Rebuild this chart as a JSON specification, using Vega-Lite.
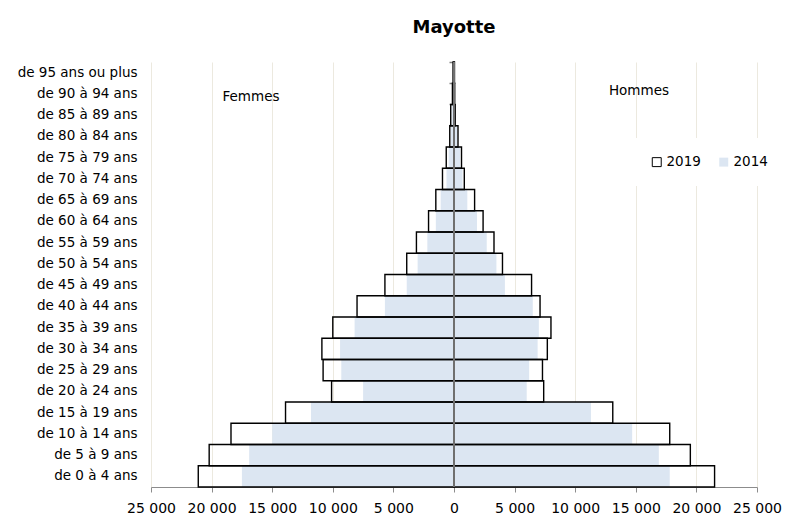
{
  "$schema": "https://vega.github.io/schema/vega-lite/v6.json",
  "width": 606,
  "height": 425,
  "autosize": {"type": "none"},
  "padding": {"left": 151, "top": 62, "right": 30, "bottom": 31},
  "background": "white",
  "config": {"font": "DejaVu Sans", "view": {"stroke": null}, "axisX": {"labelFontSize": 14}},
  "title": {"text": "Mayotte", "fontSize": 18, "fontWeight": "bold", "font": "DejaVu Sans", "anchor": "middle", "baseline": "alphabetic", "offset": 10, "color": "black"},
  "data": {"values": [
    {"age": "de 95 ans ou plus", "sexe": "Femmes", "annee": "2019", "pop": -80},
    {"age": "de 90 à 94 ans", "sexe": "Femmes", "annee": "2019", "pop": -130},
    {"age": "de 85 à 89 ans", "sexe": "Femmes", "annee": "2019", "pop": -270},
    {"age": "de 80 à 84 ans", "sexe": "Femmes", "annee": "2019", "pop": -350},
    {"age": "de 75 à 79 ans", "sexe": "Femmes", "annee": "2019", "pop": -640},
    {"age": "de 70 à 74 ans", "sexe": "Femmes", "annee": "2019", "pop": -950},
    {"age": "de 65 à 69 ans", "sexe": "Femmes", "annee": "2019", "pop": -1500},
    {"age": "de 60 à 64 ans", "sexe": "Femmes", "annee": "2019", "pop": -2100},
    {"age": "de 55 à 59 ans", "sexe": "Femmes", "annee": "2019", "pop": -3100},
    {"age": "de 50 à 54 ans", "sexe": "Femmes", "annee": "2019", "pop": -3900},
    {"age": "de 45 à 49 ans", "sexe": "Femmes", "annee": "2019", "pop": -5700},
    {"age": "de 40 à 44 ans", "sexe": "Femmes", "annee": "2019", "pop": -8000},
    {"age": "de 35 à 39 ans", "sexe": "Femmes", "annee": "2019", "pop": -10000},
    {"age": "de 30 à 34 ans", "sexe": "Femmes", "annee": "2019", "pop": -10900},
    {"age": "de 25 à 29 ans", "sexe": "Femmes", "annee": "2019", "pop": -10800},
    {"age": "de 20 à 24 ans", "sexe": "Femmes", "annee": "2019", "pop": -10100},
    {"age": "de 15 à 19 ans", "sexe": "Femmes", "annee": "2019", "pop": -13900},
    {"age": "de 10 à 14 ans", "sexe": "Femmes", "annee": "2019", "pop": -18400},
    {"age": "de 5 à 9 ans", "sexe": "Femmes", "annee": "2019", "pop": -20200},
    {"age": "de 0 à 4 ans", "sexe": "Femmes", "annee": "2019", "pop": -21100},
    {"age": "de 95 ans ou plus", "sexe": "Femmes", "annee": "2014", "pop": -50},
    {"age": "de 90 à 94 ans", "sexe": "Femmes", "annee": "2014", "pop": -90},
    {"age": "de 85 à 89 ans", "sexe": "Femmes", "annee": "2014", "pop": -180},
    {"age": "de 80 à 84 ans", "sexe": "Femmes", "annee": "2014", "pop": -260},
    {"age": "de 75 à 79 ans", "sexe": "Femmes", "annee": "2014", "pop": -440},
    {"age": "de 70 à 74 ans", "sexe": "Femmes", "annee": "2014", "pop": -620},
    {"age": "de 65 à 69 ans", "sexe": "Femmes", "annee": "2014", "pop": -1100},
    {"age": "de 60 à 64 ans", "sexe": "Femmes", "annee": "2014", "pop": -1500},
    {"age": "de 55 à 59 ans", "sexe": "Femmes", "annee": "2014", "pop": -2200},
    {"age": "de 50 à 54 ans", "sexe": "Femmes", "annee": "2014", "pop": -3000},
    {"age": "de 45 à 49 ans", "sexe": "Femmes", "annee": "2014", "pop": -3900},
    {"age": "de 40 à 44 ans", "sexe": "Femmes", "annee": "2014", "pop": -5700},
    {"age": "de 35 à 39 ans", "sexe": "Femmes", "annee": "2014", "pop": -8200},
    {"age": "de 30 à 34 ans", "sexe": "Femmes", "annee": "2014", "pop": -9400},
    {"age": "de 25 à 29 ans", "sexe": "Femmes", "annee": "2014", "pop": -9300},
    {"age": "de 20 à 24 ans", "sexe": "Femmes", "annee": "2014", "pop": -7500},
    {"age": "de 15 à 19 ans", "sexe": "Femmes", "annee": "2014", "pop": -11800},
    {"age": "de 10 à 14 ans", "sexe": "Femmes", "annee": "2014", "pop": -15000},
    {"age": "de 5 à 9 ans", "sexe": "Femmes", "annee": "2014", "pop": -16900},
    {"age": "de 0 à 4 ans", "sexe": "Femmes", "annee": "2014", "pop": -17500},
    {"age": "de 95 ans ou plus", "sexe": "Hommes", "annee": "2019", "pop": 40},
    {"age": "de 90 à 94 ans", "sexe": "Hommes", "annee": "2019", "pop": 60},
    {"age": "de 85 à 89 ans", "sexe": "Hommes", "annee": "2019", "pop": 100},
    {"age": "de 80 à 84 ans", "sexe": "Hommes", "annee": "2019", "pop": 330},
    {"age": "de 75 à 79 ans", "sexe": "Hommes", "annee": "2019", "pop": 620},
    {"age": "de 70 à 74 ans", "sexe": "Hommes", "annee": "2019", "pop": 850},
    {"age": "de 65 à 69 ans", "sexe": "Hommes", "annee": "2019", "pop": 1700},
    {"age": "de 60 à 64 ans", "sexe": "Hommes", "annee": "2019", "pop": 2400},
    {"age": "de 55 à 59 ans", "sexe": "Hommes", "annee": "2019", "pop": 3300},
    {"age": "de 50 à 54 ans", "sexe": "Hommes", "annee": "2019", "pop": 4000},
    {"age": "de 45 à 49 ans", "sexe": "Hommes", "annee": "2019", "pop": 6400},
    {"age": "de 40 à 44 ans", "sexe": "Hommes", "annee": "2019", "pop": 7100},
    {"age": "de 35 à 39 ans", "sexe": "Hommes", "annee": "2019", "pop": 8000},
    {"age": "de 30 à 34 ans", "sexe": "Hommes", "annee": "2019", "pop": 7700},
    {"age": "de 25 à 29 ans", "sexe": "Hommes", "annee": "2019", "pop": 7300},
    {"age": "de 20 à 24 ans", "sexe": "Hommes", "annee": "2019", "pop": 7400},
    {"age": "de 15 à 19 ans", "sexe": "Hommes", "annee": "2019", "pop": 13100},
    {"age": "de 10 à 14 ans", "sexe": "Hommes", "annee": "2019", "pop": 17800},
    {"age": "de 5 à 9 ans", "sexe": "Hommes", "annee": "2019", "pop": 19500},
    {"age": "de 0 à 4 ans", "sexe": "Hommes", "annee": "2019", "pop": 21500},
    {"age": "de 95 ans ou plus", "sexe": "Hommes", "annee": "2014", "pop": 20},
    {"age": "de 90 à 94 ans", "sexe": "Hommes", "annee": "2014", "pop": 40},
    {"age": "de 85 à 89 ans", "sexe": "Hommes", "annee": "2014", "pop": 80},
    {"age": "de 80 à 84 ans", "sexe": "Hommes", "annee": "2014", "pop": 250},
    {"age": "de 75 à 79 ans", "sexe": "Hommes", "annee": "2014", "pop": 500},
    {"age": "de 70 à 74 ans", "sexe": "Hommes", "annee": "2014", "pop": 700},
    {"age": "de 65 à 69 ans", "sexe": "Hommes", "annee": "2014", "pop": 1100},
    {"age": "de 60 à 64 ans", "sexe": "Hommes", "annee": "2014", "pop": 1900},
    {"age": "de 55 à 59 ans", "sexe": "Hommes", "annee": "2014", "pop": 2700},
    {"age": "de 50 à 54 ans", "sexe": "Hommes", "annee": "2014", "pop": 3500},
    {"age": "de 45 à 49 ans", "sexe": "Hommes", "annee": "2014", "pop": 4200},
    {"age": "de 40 à 44 ans", "sexe": "Hommes", "annee": "2014", "pop": 6500},
    {"age": "de 35 à 39 ans", "sexe": "Hommes", "annee": "2014", "pop": 7000},
    {"age": "de 30 à 34 ans", "sexe": "Hommes", "annee": "2014", "pop": 6900},
    {"age": "de 25 à 29 ans", "sexe": "Hommes", "annee": "2014", "pop": 6200},
    {"age": "de 20 à 24 ans", "sexe": "Hommes", "annee": "2014", "pop": 6000},
    {"age": "de 15 à 19 ans", "sexe": "Hommes", "annee": "2014", "pop": 11300},
    {"age": "de 10 à 14 ans", "sexe": "Hommes", "annee": "2014", "pop": 14700},
    {"age": "de 5 à 9 ans", "sexe": "Hommes", "annee": "2014", "pop": 16900},
    {"age": "de 0 à 4 ans", "sexe": "Hommes", "annee": "2014", "pop": 17800}
  ]},
  "layer": [
    {
      "transform": [{"filter": "datum.annee == '2014'"}],
      "mark": {"type": "bar", "strokeWidth": 0},
      "encoding": {
        "y": {
          "field": "age", "type": "nominal",
          "sort": ["de 95 ans ou plus", "de 90 à 94 ans", "de 85 à 89 ans", "de 80 à 84 ans", "de 75 à 79 ans", "de 70 à 74 ans", "de 65 à 69 ans", "de 60 à 64 ans", "de 55 à 59 ans", "de 50 à 54 ans", "de 45 à 49 ans", "de 40 à 44 ans", "de 35 à 39 ans", "de 30 à 34 ans", "de 25 à 29 ans", "de 20 à 24 ans", "de 15 à 19 ans", "de 10 à 14 ans", "de 5 à 9 ans", "de 0 à 4 ans"],
          "scale": {"paddingInner": 0, "paddingOuter": 0},
          "axis": {"orient": "left", "title": null, "domain": false, "ticks": false, "labelPadding": 14, "labelFontSize": 13.5, "labelColor": "black", "labelFont": "DejaVu Sans"}
        },
        "x": {
          "field": "pop", "type": "quantitative",
          "scale": {"domain": [-25000, 25000], "nice": false},
          "axis": {
            "title": null,
            "values": [-25000, -20000, -15000, -10000, -5000, 0, 5000, 10000, 15000, 20000, 25000],
            "labelExpr": "replace(format(abs(datum.value), ',d'), ',', ' ')",
            "labelOverlap": false, "labelFlush": false,
            "grid": true, "gridColor": "#ece9df", "gridWidth": 1,
            "domainColor": "#8c8c8c", "tickColor": "#8c8c8c", "tickSize": 5,
            "labelFontSize": 14, "labelColor": "black", "labelPadding": 9, "labelFont": "DejaVu Sans"
          }
        },
        "fill": {
          "field": "annee", "type": "nominal",
          "scale": {"domain": ["2019", "2014"], "range": ["rgba(255,255,255,0)", "#dce6f2"]},
          "legend": {
            "title": null, "orient": "none", "direction": "horizontal", "legendX": 482, "legendY": 76,
            "fillColor": "white", "padding": 17, "symbolType": "square", "symbolSize": 80,
            "symbolStrokeWidth": 1, "labelFontSize": 13.5, "labelColor": "black", "labelOffset": 3,
            "columnPadding": 16, "labelFont": "DejaVu Sans"
          }
        },
        "stroke": {
          "field": "annee", "type": "nominal",
          "scale": {"domain": ["2019", "2014"], "range": ["#000000", "rgba(0,0,0,0)"]},
          "legend": {
            "title": null, "orient": "none", "direction": "horizontal", "legendX": 482, "legendY": 76,
            "fillColor": "white", "padding": 17, "symbolType": "square", "symbolSize": 80,
            "symbolStrokeWidth": 1, "labelFontSize": 13.5, "labelColor": "black", "labelOffset": 3,
            "columnPadding": 16, "labelFont": "DejaVu Sans"
          }
        }
      }
    },
    {
      "transform": [{"filter": "datum.annee == '2019'"}],
      "mark": {"type": "bar", "strokeWidth": 1.4},
      "encoding": {
        "y": {
          "field": "age", "type": "nominal",
          "sort": ["de 95 ans ou plus", "de 90 à 94 ans", "de 85 à 89 ans", "de 80 à 84 ans", "de 75 à 79 ans", "de 70 à 74 ans", "de 65 à 69 ans", "de 60 à 64 ans", "de 55 à 59 ans", "de 50 à 54 ans", "de 45 à 49 ans", "de 40 à 44 ans", "de 35 à 39 ans", "de 30 à 34 ans", "de 25 à 29 ans", "de 20 à 24 ans", "de 15 à 19 ans", "de 10 à 14 ans", "de 5 à 9 ans", "de 0 à 4 ans"],
          "axis": {"orient": "right", "offset": -303, "title": null, "labels": false, "domain": false, "ticks": true, "bandPosition": 0, "tickSize": -5, "tickColor": "#808080", "tickWidth": 1.5}
        },
        "x": {"field": "pop", "type": "quantitative"},
        "fill": {"field": "annee", "type": "nominal"},
        "stroke": {"field": "annee", "type": "nominal"}
      }
    },
    {
      "data": {"values": [{}]},
      "mark": {"type": "rule", "color": "#6f6f6f", "strokeWidth": 2},
      "encoding": {"x": {"datum": 0}}
    },
    {
      "data": {"values": [{}]},
      "mark": {"type": "text", "text": "Femmes", "fontSize": 13.5, "dy": 3, "color": "black", "font": "DejaVu Sans"},
      "encoding": {"x": {"datum": -16750}, "y": {"datum": "de 90 à 94 ans", "axis": null}}
    },
    {
      "data": {"values": [{}]},
      "mark": {"type": "text", "text": "Hommes", "fontSize": 13.5, "dy": -3, "color": "black", "font": "DejaVu Sans"},
      "encoding": {"x": {"datum": 15260}, "y": {"datum": "de 90 à 94 ans", "axis": null}}
    }
  ],
  "resolve": {"axis": {"y": "independent"}}
}
